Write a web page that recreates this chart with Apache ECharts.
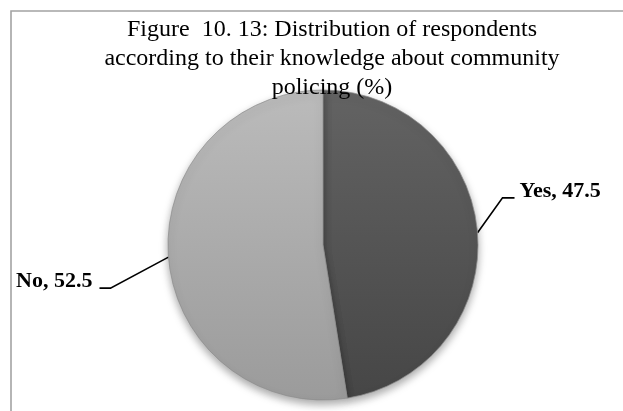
<!DOCTYPE html>
<html>
<head>
<meta charset="utf-8">
<script src="https://cdn.jsdelivr.net/npm/echarts@6/dist/echarts.min.js"></script>
<style>
  html, body { margin: 0; padding: 0; background: #fff; }
  #chart { width: 623px; height: 411px; }
</style>
</head>
<body>
<div id="chart"></div>
<script>
// Knowledge about community policing, share of respondents (%)
const categories = ['Yes', 'No'];
const shares = [47.5, 52.5];
const titleLines = [
  'Figure  10. 13: Distribution of respondents',
  'according to their knowledge about community',
  'policing (%)'
];

// Vertical shading for each slice (top colour, bottom colour)
const sliceShades = [
  ['#636363', '#464646'],
  ['#bbbbbb', '#9b9b9b']
];

// Leader line bends, relative to the point where the line leaves the slice
const leaderBends = [
  { bend: [25, -35], tail: 12, side: 'right' },
  { bend: [-58, 31], tail: -11, side: 'left' }
];

const chart = echarts.init(document.getElementById('chart'), null, { renderer: 'canvas' });

const seriesData = categories.map((name, i) => ({
  name: name,
  value: shares[i],
  itemStyle: {
    color: {
      type: 'linear', x: 0, y: 0, x2: 0, y2: 1,
      colorStops: [
        { offset: 0, color: sliceShades[i][0] },
        { offset: 1, color: sliceShades[i][1] }
      ]
    }
  }
}));

chart.setOption({
  animation: false,
  title: {
    text: titleLines.join('\n'),
    left: 332,
    top: 15,
    padding: 0,
    textAlign: 'center',
    textStyle: {
      fontFamily: 'Liberation Serif',
      fontSize: 24,
      fontWeight: 'normal',
      color: '#000',
      lineHeight: 29
    }
  },
  graphic: [{
    type: 'rect',
    silent: true,
    z: -1,
    shape: { x: 11, y: 11, width: 700, height: 500 },
    style: { fill: 'none', stroke: '#a3a3a3', lineWidth: 1.6 }
  }],
  series: [{
    type: 'pie',
    center: [323, 245],
    radius: 155,
    startAngle: 90,
    clockwise: true,
    data: seriesData,
    itemStyle: {
      borderColor: 'rgba(140,140,140,0.7)',
      borderWidth: 1,
      shadowBlur: 9,
      shadowOffsetY: 4,
      shadowColor: 'rgba(0,0,0,0.35)'
    },
    label: {
      show: true,
      position: 'outside',
      formatter: '{b}, {c}',
      fontFamily: 'Liberation Serif',
      fontSize: 22,
      fontWeight: 'bold',
      color: '#000'
    },
    labelLine: {
      show: true,
      length: 20,
      length2: 10,
      lineStyle: { color: '#000', width: 1.6 }
    },
    labelLayout: function (params) {
      const cfg = leaderBends[params.dataIndex];
      const pts = params.labelLinePoints;
      if (!cfg || !pts) return {};
      const a = pts[0];
      const b = [a[0] + cfg.bend[0], a[1] + cfg.bend[1]];
      const c = [b[0] + cfg.tail, b[1]];
      const right = cfg.side === 'right';
      return {
        x: right ? c[0] + 5 : c[0] - 7,
        y: c[1] - 7,
        align: right ? 'left' : 'right',
        verticalAlign: 'middle',
        labelLinePoints: [a, b, c]
      };
    }
  }]
});
</script>
</body>
</html>
